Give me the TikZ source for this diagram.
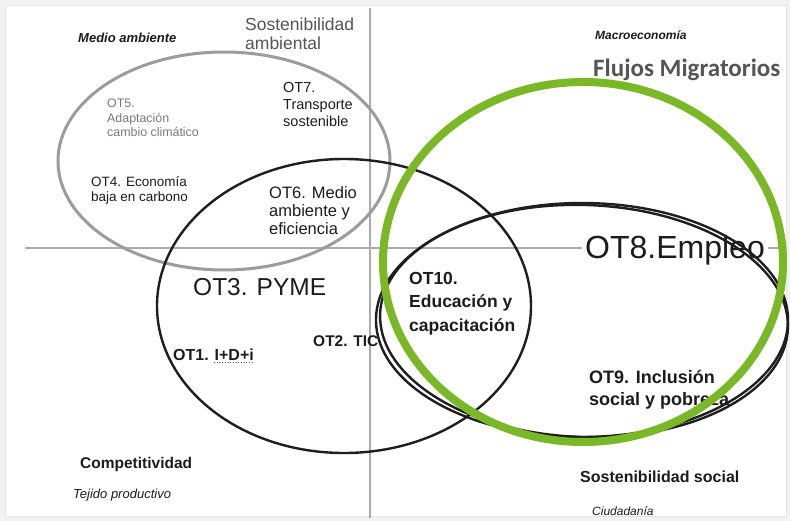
\documentclass[tikz,border=0pt]{standalone}
\usepackage{fontspec}
\setmainfont{Liberation Sans}
\newfontfamily\calib{Carlito}
\definecolor{txt}{HTML}{1C1C1C}
\definecolor{graytxt}{HTML}{555555}
\definecolor{lightgraytxt}{HTML}{7A7A7A}
\definecolor{axisgray}{HTML}{ABABAB}
\definecolor{ellgray}{HTML}{9C9C9C}
\definecolor{ellblack}{HTML}{1E1E1E}
\definecolor{ringgreen}{RGB}{122,184,40}
\tikzset{
  lbl/.style={anchor=base west, inner sep=0pt, text=txt},
  axisline/.style={draw=axisgray, line width=2pt},
  blackell/.style={draw=ellblack, line width=2.4pt},
}
\begin{document}
\begin{tikzpicture}[x=1pt,y=-1pt]
\useasboundingbox (0,0) rectangle (790,521);
\fill[black!5] (0,0) rectangle (790,521);
\draw[fill=white, draw=black!10, line width=0.8pt] (5,5) rectangle (786,516);
% axes
\coordinate (vtop) at (370,8);
\coordinate (vbot) at (370,518);
\coordinate (hl) at (25,248);
\coordinate (hr) at (786,248);
\draw[axisline] (vtop) -- (vbot);
\draw[axisline] (hl) -- (hr);
% labels
\node[lbl, font=\bfseries\itshape\fontsize{13}{15}\selectfont] (medio) at (78,43) {Medio ambiente};
\node[lbl, text=graytxt, font=\fontsize{17.5}{20}\selectfont] (sosa1) at (245,31) {Sostenibilidad};
\node[lbl, text=graytxt, font=\fontsize{17.5}{20}\selectfont] (sosa2) at (245,50) {ambiental};
\node[lbl, text=lightgraytxt, font=\fontsize{12.4}{14}\selectfont] (ot5a) at (107,108) {OT5.};
\node[lbl, text=lightgraytxt, font=\fontsize{12.4}{14}\selectfont] (ot5b) at (107,123) {Adaptación};
\node[lbl, text=lightgraytxt, font=\fontsize{12.4}{14}\selectfont] (ot5c) at (107,137) {cambio climático};
\node[lbl, font=\fontsize{14.5}{16}\selectfont] (ot7a) at (283,93) {OT7.};
\node[lbl, font=\fontsize{14.5}{16}\selectfont] (ot7b) at (283,110) {Transporte};
\node[lbl, font=\fontsize{14.5}{16}\selectfont] (ot7c) at (283,127) {sostenible};
\node[lbl, font=\fontsize{13.5}{15}\selectfont] (ot4a) at (91,187) {OT4. Economía};
\node[lbl, font=\fontsize{13.5}{15}\selectfont] (ot4b) at (91,202) {baja en carbono};
\node[lbl, font=\fontsize{16.5}{18}\selectfont] (ot6a) at (269,199) {OT6. Medio};
\node[lbl, font=\fontsize{16.5}{18}\selectfont] (ot6b) at (269,217) {ambiente y};
\node[lbl, font=\fontsize{16.5}{18}\selectfont] (ot6c) at (269,235) {eficiencia};
\node[lbl, font=\fontsize{24.5}{27}\selectfont] (ot3) at (193,296) {OT3. PYME};
\node[lbl, font=\bfseries\fontsize{16}{18}\selectfont] (ot1) at (173,360) {OT1. I+D+i};
\coordinate (ulR) at ([yshift=-2.5pt]ot1.base east);
\coordinate (ulL) at ([xshift=-40pt]ulR);
\draw[ellblack!75, line width=0.7pt, dotted] (ulL) -- (ulR);
\node[lbl, font=\bfseries\fontsize{15.5}{17}\selectfont] (ot2) at (313,347) {OT2. TIC};
\node[lbl, font=\bfseries\fontsize{17.5}{19}\selectfont] (ot10a) at (409,285) {OT10.};
\node[lbl, font=\bfseries\fontsize{17.5}{19}\selectfont] (ot10b) at (409,308) {Educación y};
\node[lbl, font=\bfseries\fontsize{17.5}{19}\selectfont] (ot10c) at (409,331) {capacitación};
\node[lbl, fill=white, inner xsep=3pt, inner ysep=1pt, font=\fontsize{32}{35}\selectfont] (ot8) at (582,259) {OT8.Empleo};
\node[lbl, font=\bfseries\fontsize{18}{20}\selectfont] (ot9a) at (589,383) {OT9. Inclusión};
\node[lbl, font=\bfseries\fontsize{18}{20}\selectfont] (ot9b) at (589,405) {social y pobreza};
\node[lbl, font=\bfseries\fontsize{16}{18}\selectfont] (sossoc) at (580,482) {Sostenibilidad social};
\node[lbl, font=\itshape\fontsize{12}{14}\selectfont] (ciud) at (592,515) {Ciudadanía};
\node[lbl, font=\bfseries\fontsize{15.5}{17}\selectfont] (comp) at (80,468) {Competitividad};
\node[lbl, font=\itshape\fontsize{13}{15}\selectfont] (tejido) at (73,498) {Tejido productivo};
\node[lbl, font=\bfseries\itshape\fontsize{12}{14}\selectfont] (macro) at (595,40) {Macroeconomía};
\node[lbl, text=graytxt, font=\calib\bfseries\fontsize{25}{28}\selectfont] (flujos) at (593,77) {Flujos Migratorios};
% ellipses
\draw[draw=ellgray, line width=3pt] (224,161) ellipse [x radius=166, y radius=109];
\draw[blackell] (344,306) ellipse [x radius=187, y radius=147];
\draw[blackell] (582,320) ellipse [x radius=206, y radius=117];
\draw[blackell, rotate around={-2:(584,321)}] (584,321) ellipse [x radius=204, y radius=116];
\draw[draw=ringgreen, line width=8pt] (583,262) ellipse [x radius=200, y radius=180];
\end{tikzpicture}
\end{document}
